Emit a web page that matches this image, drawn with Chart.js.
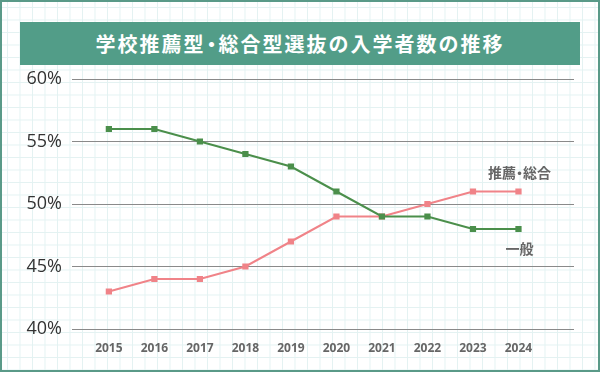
<!DOCTYPE html>
<html>
<head>
<meta charset="utf-8">
<script src="https://cdn.jsdelivr.net/npm/chart.js@4"></script>
<style>
    body { margin: 0; }
    #wrap {
        position: relative;
        width: 600px;
        height: 372px;
        box-sizing: border-box;
        border: 2px solid #5a9a88;
        background-color: #ffffff;
        background-image:
            linear-gradient(to right, #e3f2f2 1px, transparent 1px),
            linear-gradient(to bottom, #e3f2f2 1px, transparent 1px);
        background-size: 12.5px 12.5px;
        background-position: 5px 5px;
        overflow: hidden;
    }
    #title {
        position: absolute;
        left: 18px;
        top: 20px;
        width: 560px;
        height: 43px;
        background: #529d88;
        color: #fff;
        font-family: "Noto Sans CJK JP", sans-serif;
        font-weight: bold;
        font-size: 20px;
        letter-spacing: 2px;
        line-height: 43px;
        text-align: center;
    }
    #title .dot { display: inline-block; margin: 0 -5px 0 -4px; }
    #chart { position: absolute; left: -2px; top: -2px; }
</style>
</head>
<body>
<div id="wrap">
    <div id="title">学校推薦型<span class="dot">・</span>総合型選抜の入学者数の推移</div>
    <canvas id="chart" width="600" height="372"></canvas>
</div>
<script>
// 年度と割合(%)
const years = [2015, 2016, 2017, 2018, 2019, 2020, 2021, 2022, 2023, 2024];
const ippan = [56, 56, 55, 54, 53, 51, 49, 49, 48, 48];
const suisen = [43, 44, 44, 45, 47, 49, 49, 50, 51, 51];
const yTicks = [40, 45, 50, 55, 60];

const greenColor = '#4b8f4b';
const pinkColor = '#f08388';

// 最後の点の近くに系列名を描く
const seriesLabels = {
    id: 'seriesLabels',
    afterDatasetsDraw(chart) {
        const ctx = chart.ctx;
        const x = chart.scales.x;
        const y = chart.scales.y;
        const last = years.length - 1;
        const cx = x.getPixelForValue(years[last]) + 1;
        ctx.save();
        ctx.font = 'bold 14px "Noto Sans CJK JP", sans-serif';
        ctx.fillStyle = '#666';
        ctx.textBaseline = 'middle';

        // 「推薦・総合」は中黒を詰めて描く
        const ys = y.getPixelForValue(suisen[last]) - 19;
        const a = '推薦', b = '・', c = '総合';
        const wa = ctx.measureText(a).width, wc = ctx.measureText(c).width;
        const wb = 7;
        let left = cx - (wa + wb + wc) / 2;
        ctx.textAlign = 'left';
        ctx.fillText(a, left, ys);
        ctx.textAlign = 'center';
        ctx.fillText(b, left + wa + wb / 2, ys);
        ctx.textAlign = 'left';
        ctx.fillText(c, left + wa + wb, ys);

        ctx.textAlign = 'center';
        ctx.fillText('一般', cx, y.getPixelForValue(ippan[last]) + 20);
        ctx.restore();
    }
};

new Chart(document.getElementById('chart'), {
    type: 'line',
    data: {
        datasets: [
            {
                label: '一般',
                data: years.map((yr, i) => ({ x: yr, y: ippan[i] })),
                borderColor: greenColor,
                backgroundColor: greenColor,
                borderWidth: 2,
                pointStyle: 'rect',
                pointRadius: 3,
                tension: 0
            },
            {
                label: '推薦・総合',
                data: years.map((yr, i) => ({ x: yr, y: suisen[i] })),
                borderColor: pinkColor,
                backgroundColor: pinkColor,
                borderWidth: 2,
                pointStyle: 'rect',
                pointRadius: 3,
                tension: 0
            }
        ]
    },
    options: {
        responsive: false,
        animation: false,
        layout: { padding: { top: 79, right: 26, left: 2, bottom: 0 } },
        plugins: { legend: { display: false }, tooltip: { enabled: false } },
        scales: {
            x: {
                type: 'linear',
                min: 2014.19,
                max: 2025.22,
                afterBuildTicks: scale => { scale.ticks = years.map(v => ({ value: v })); },
                afterFit: scale => { scale.height = 43; },
                grid: { display: false },
                border: { display: false },
                ticks: {
                    padding: 4,
                    color: '#666',
                    font: { family: 'Open Sans', weight: 'bold', size: 12 },
                    callback: v => String(v)
                }
            },
            y: {
                min: 40,
                max: 60,
                afterBuildTicks: scale => { scale.ticks = yTicks.map(v => ({ value: v })); },
                afterFit: scale => { scale.width = 70; },
                grid: { color: '#8a8a8a', lineWidth: 1, drawTicks: false },
                border: { display: false },
                ticks: {
                    padding: 10,
                    color: '#333',
                    font: { family: 'Open Sans', size: 18 },
                    callback: v => v + '%'
                }
            }
        }
    },
    plugins: [seriesLabels]
});
</script>
</body>
</html>
